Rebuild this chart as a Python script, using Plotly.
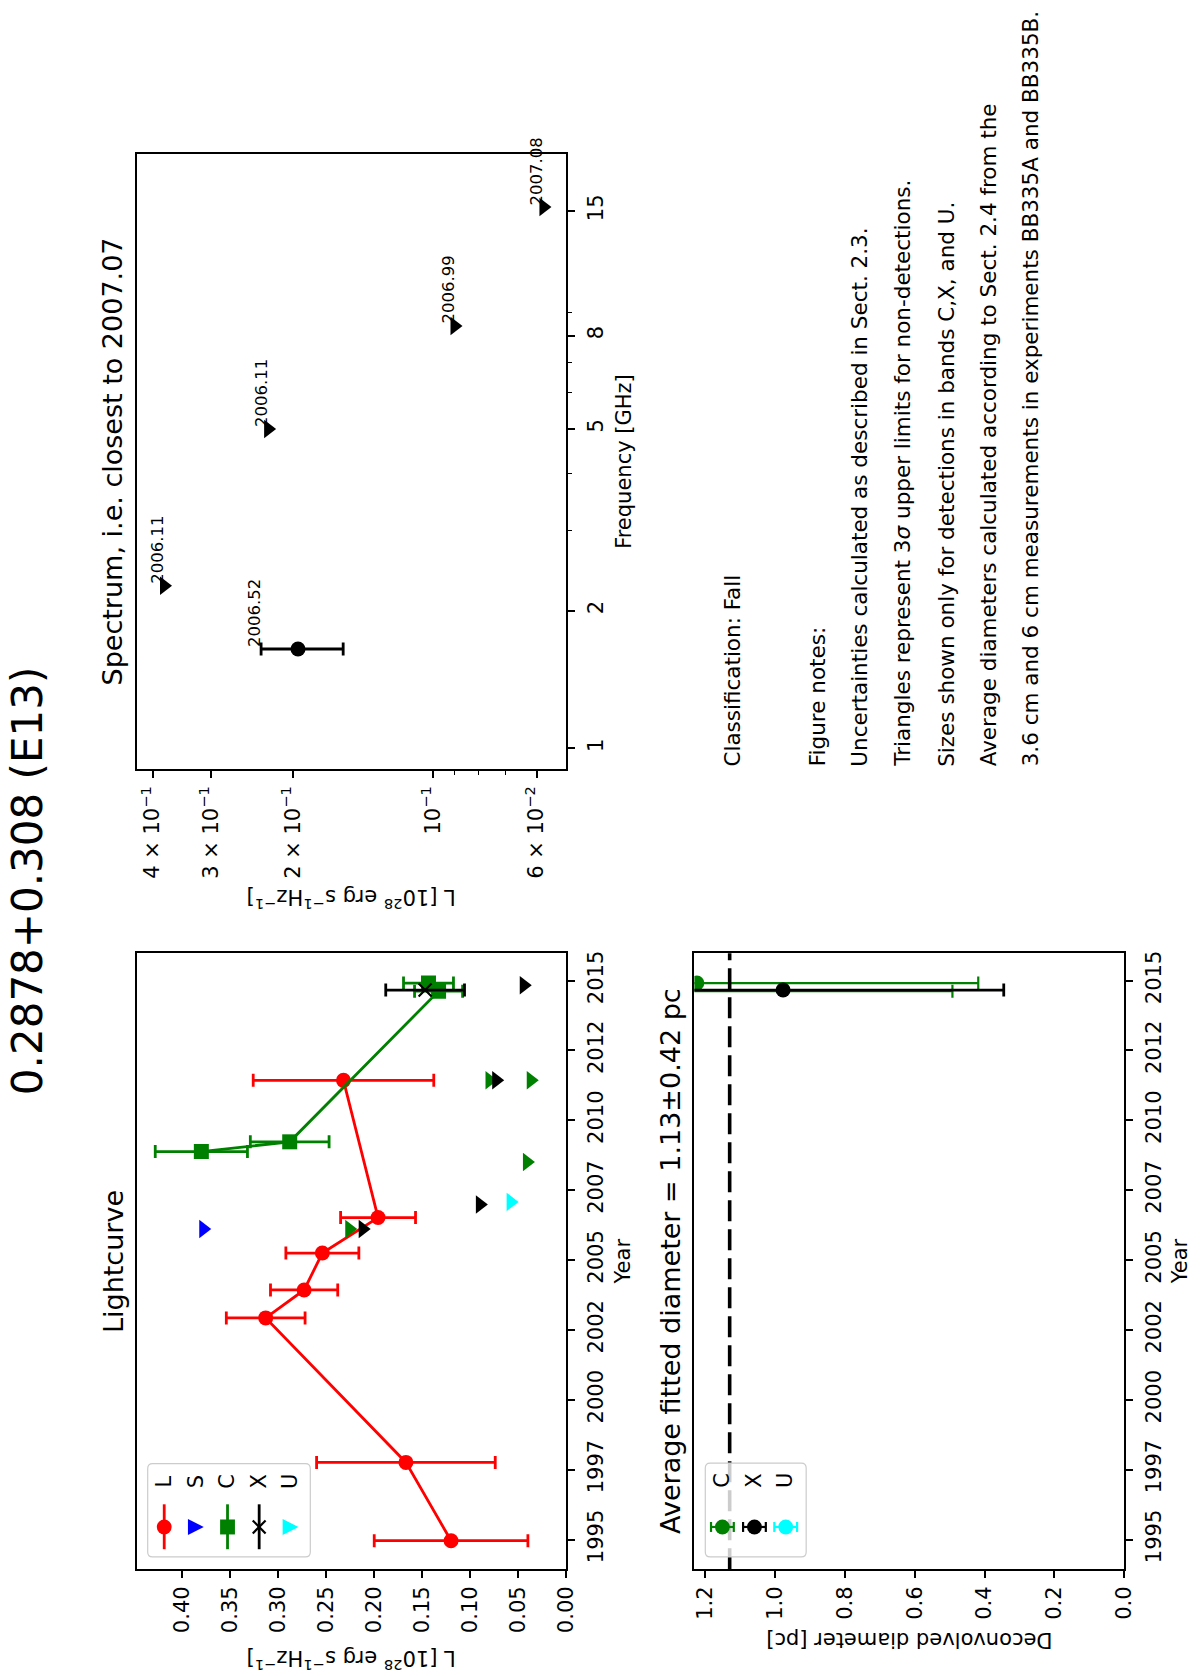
import numpy as np
import plotly.graph_objects as go

# ---------------- Data ----------------
# Lightcurve: detections
L_years = [1994.96, 1997.76, 2002.93, 2003.93, 2005.25, 2006.52, 2011.43]
L_flux = [0.120, 0.167, 0.313, 0.273, 0.254, 0.196, 0.232]
L_err = [0.080, 0.093, 0.041, 0.035, 0.038, 0.039, 0.094]

C_years = [2008.88, 2009.23, 2014.62, 2014.91]
C_flux = [0.380, 0.288, 0.133, 0.1435]
C_err = [0.048, 0.041, 0.025, 0.026]

X_years = [2014.66]
X_flux = [0.147]
X_err = [0.041]

# Lightcurve: 3-sigma upper limits
S_lim_years = [2006.11]
S_lim_flux = [0.378]
C_lim_years = [2006.11, 2008.51, 2011.43, 2011.43]
C_lim_flux = [0.226, 0.041, 0.080, 0.037]
X_lim_years = [2006.11, 2006.99, 2011.43, 2014.83]
X_lim_flux = [0.212, 0.090, 0.073, 0.0443]
U_lim_years = [2007.08]
U_lim_flux = [0.058]

# Spectrum (closest to 2007.07)
spec_det_freq = [1.65]
spec_det_flux = [0.195]
spec_det_err = [0.039]
spec_det_epoch = ["2006.52"]
spec_lim_freq = [2.27, 5.0, 8.4, 15.3]
spec_lim_flux = [0.378, 0.226, 0.090, 0.058]
spec_lim_epoch = ["2006.11", "2006.11", "2006.99", "2007.08"]

# Deconvolved diameters
D_C_years = [2014.91, 2014.62]
D_C = [1.224, 1.30]
D_C_err = [0.806, 0.808]
D_X_years = [2014.66]
D_X = [0.977]
D_X_err = [0.632]
avg_diam = 1.13
avg_diam_err = 0.42

# Ticks
year_ticks = [1995, 1997.5, 2000, 2002.5, 2005, 2007.5, 2010, 2012.5, 2015]
year_labels = ["1995", "1997", "2000", "2002", "2005", "2007", "2010", "2012", "2015"]
flux_ticks = [0.0, 0.05, 0.10, 0.15, 0.20, 0.25, 0.30, 0.35, 0.40]
flux_labels = ["0.00", "0.05", "0.10", "0.15", "0.20", "0.25", "0.30", "0.35", "0.40"]
spec_flux_ticks = [0.06, 0.1, 0.2, 0.3, 0.4]
spec_flux_labels = ["6 × 10<sup>−2</sup>", "10<sup>−1</sup>", "2 × 10<sup>−1</sup>",
                    "3 × 10<sup>−1</sup>", "4 × 10<sup>−1</sup>"]
spec_flux_minor = [0.07, 0.08, 0.09]
freq_ticks = [1, 2, 5, 8, 15]
freq_labels = ["1", "2", "5", "8", "15"]
freq_minor = [3, 4, 6, 7, 9]
diam_ticks = [0.0, 0.2, 0.4, 0.6, 0.8, 1.0, 1.2]
diam_labels = ["0.0", "0.2", "0.4", "0.6", "0.8", "1.0", "1.2"]

notes = [
    "Classification: Fall",
    "Figure notes:",
    "Uncertainties calculated as described in Sect. 2.3.",
    "Triangles represent 3<i>σ</i> upper limits for non-detections.",
    "Sizes shown only for detections in bands C,X, and U.",
    "Average diameters calculated according to Sect. 2.4 from the",
    "3.6 cm and 6 cm measurements in experiments BB335A and BB335B.",
]

# ---------------- Layout geometry (pixels) ----------------
W, H = 1200, 1676
FONT = "DejaVu Sans"
RED, BLUE, GREEN, BLACK, CYAN = "#ff0000", "#0000ff", "#008000", "#000000", "#00ffff"


def px(x):
    return x / W


def py(y):
    return 1 - y / H


LC_X = (137, 571.5)
LC_Y = (952, 1569)
SP_X = (137, 571.5)
SP_Y = (151.7, 767.3)
DI_X = (701, 1135.5)
DI_Y = (952, 1569)

fig = go.Figure()

TRI = dict(symbol="triangle-right", size=16)
ERR = dict(type="data", symmetric=True, thickness=2.8, width=6.5)
LW = 2.8

# ---- Lightcurve traces ----
fig.add_trace(go.Scatter(x=L_flux, y=L_years, mode="lines+markers", xaxis="x", yaxis="y",
                         line=dict(color=RED, width=LW),
                         marker=dict(symbol="circle", size=15, color=RED),
                         error_x=dict(array=L_err, color=RED, **ERR)))
fig.add_trace(go.Scatter(x=C_flux, y=C_years, mode="lines+markers", xaxis="x", yaxis="y",
                         line=dict(color=GREEN, width=LW),
                         marker=dict(symbol="square", size=15, color=GREEN),
                         error_x=dict(array=C_err, color=GREEN, **ERR)))
fig.add_trace(go.Scatter(x=X_flux, y=X_years, mode="markers", xaxis="x", yaxis="y",
                         marker=dict(symbol="x-thin", size=13, color=BLACK,
                                     line=dict(width=2.2, color=BLACK)),
                         error_x=dict(array=X_err, color=BLACK, **ERR)))
for yrs, fl, col in [(S_lim_years, S_lim_flux, BLUE), (C_lim_years, C_lim_flux, GREEN),
                     (X_lim_years, X_lim_flux, BLACK), (U_lim_years, U_lim_flux, CYAN)]:
    fig.add_trace(go.Scatter(x=fl, y=yrs, mode="markers", xaxis="x", yaxis="y",
                             marker=dict(color=col, **TRI)))

# ---- Spectrum traces ----
fig.add_trace(go.Scatter(x=spec_det_flux, y=spec_det_freq, mode="markers", xaxis="x2", yaxis="y2",
                         marker=dict(symbol="circle", size=15, color=BLACK),
                         error_x=dict(array=spec_det_err, color=BLACK, **ERR)))
fig.add_trace(go.Scatter(x=spec_lim_flux, y=spec_lim_freq, mode="markers", xaxis="x2", yaxis="y2",
                         marker=dict(color=BLACK, **TRI)))

# ---- Diameter traces ----
fig.add_trace(go.Scatter(x=D_C, y=D_C_years, mode="markers", xaxis="x3", yaxis="y3",
                         marker=dict(symbol="circle", size=15, color=GREEN),
                         error_x=dict(array=D_C_err, color=GREEN, type="data", symmetric=True,
                                      thickness=2.2, width=6.5)))
fig.add_trace(go.Scatter(x=D_X, y=D_X_years, mode="markers", xaxis="x3", yaxis="y3",
                         marker=dict(symbol="circle", size=15, color=BLACK),
                         error_x=dict(array=D_X_err, color=BLACK, **ERR)))

# ---------------- Axes ----------------
AX = dict(showline=True, linecolor="black", linewidth=1.6, mirror=True, showgrid=False,
          zeroline=False, ticks="outside", ticklen=7, tickwidth=1.6, tickcolor="black",
          tickangle=-90, tickfont=dict(family=FONT, size=21, color="black"))

fig.update_layout(
    xaxis=dict(AX, domain=[px(LC_X[0]), px(LC_X[1])], range=[0.4475, 0.0], anchor="y",
               tickmode="array", tickvals=flux_ticks, ticktext=flux_labels),
    yaxis=dict(AX, domain=[py(LC_Y[1]), py(LC_Y[0])], range=[1993.94, 2015.975], anchor="x",
               side="right", tickmode="array", tickvals=year_ticks, ticktext=year_labels,
               ticklabelstandoff=3),
    xaxis2=dict(AX, domain=[px(SP_X[0]), px(SP_X[1])], type="log", range=[-0.3635, -1.2856],
                anchor="y2", tickmode="array", tickvals=spec_flux_ticks, ticktext=spec_flux_labels,
                minor=dict(tickmode="array", tickvals=spec_flux_minor, ticks="outside",
                           ticklen=4, tickwidth=1.3, tickcolor="black", showgrid=False)),
    yaxis2=dict(AX, domain=[py(SP_Y[1]), py(SP_Y[0])], type="log", range=[-0.045, 1.2997],
                anchor="x2", side="right", tickmode="array", tickvals=freq_ticks,
                ticktext=freq_labels, ticklabelstandoff=3,
                minor=dict(tickmode="array", tickvals=freq_minor, ticks="outside",
                           ticklen=4, tickwidth=1.3, tickcolor="black", showgrid=False)),
    xaxis3=dict(AX, domain=[px(DI_X[0]), px(DI_X[1])], range=[1.231, 0.0], anchor="y3",
                tickmode="array", tickvals=diam_ticks, ticktext=diam_labels),
    yaxis3=dict(AX, domain=[py(DI_Y[1]), py(DI_Y[0])], range=[1993.94, 2015.975], anchor="x3",
                side="right", tickmode="array", tickvals=year_ticks, ticktext=year_labels,
                ticklabelstandoff=3),
)

# ---------------- Annotations ----------------
ann = []


def text(x, y, s, size=21, angle=-90, xa="center", ya="middle", **kw):
    ann.append(dict(x=px(x), y=py(y), xref="paper", yref="paper", text=s, showarrow=False,
                    textangle=angle, xanchor=xa, yanchor=ya,
                    font=dict(family=FONT, size=size, color="black"), **kw))


text(27, 879, "0.2878+0.308 (E13)", size=42)
text(113, sum(LC_Y) / 2, "Lightcurve", size=27)
text(113, sum(SP_Y) / 2, "Spectrum, i.e. closest to 2007.07", size=27)
text(677, sum(DI_Y) / 2, f"Average fitted diameter = {avg_diam:.2f}±{avg_diam_err:.2f} pc", size=27)
text(629, sum(LC_Y) / 2, "Year")
text(1192, sum(DI_Y) / 2, "Year")
text(629, sum(SP_Y) / 2, "Frequency [GHz]")
LUNIT = "L [10<sup>28</sup> erg s<sup>−1</sup>Hz<sup>−1</sup>]"
text(sum(LC_X) / 2, 1660, LUNIT, angle=180)
text(sum(SP_X) / 2, 897, LUNIT, angle=180)
text(sum(DI_X) / 2, 1640, "Deconvolved diameter [pc]", angle=180)

note_x = [740, 825, 868, 911.5, 955, 998, 1041]
for xx, s in zip(note_x, notes):
    text(xx, 767, s, size=21.5, ya="bottom")

# Spectrum epoch labels
for f, fl, e, lab in zip(spec_det_freq, spec_det_flux, spec_det_err, spec_det_epoch):
    ann.append(dict(x=np.log10(fl + e), y=np.log10(f), xref="x2", yref="y2", text=lab,
                    showarrow=False, textangle=-90, xanchor="center", yanchor="bottom",
                    xshift=-6, font=dict(family=FONT, size=16.5, color="black")))
for f, fl, lab in zip(spec_lim_freq, spec_lim_flux, spec_lim_epoch):
    ann.append(dict(x=np.log10(fl), y=np.log10(f), xref="x2", yref="y2", text=lab,
                    showarrow=False, textangle=-90, xanchor="center", yanchor="bottom",
                    xshift=-6, font=dict(family=FONT, size=16.5, color="black")))

# ---------------- Shapes (average line + hand-drawn rotated legends) ----------------
shapes = [dict(type="line", xref="x3", yref="y3 domain", x0=avg_diam, x1=avg_diam, y0=0, y1=1,
               line=dict(color="black", width=3.6, dash="21px,8px"))]


def rbox(x0, y0, x1, y1, r=5):
    p = (f"M{px(x0 + r)},{py(y0)} L{px(x1 - r)},{py(y0)} Q{px(x1)},{py(y0)} {px(x1)},{py(y0 + r)} "
         f"L{px(x1)},{py(y1 - r)} Q{px(x1)},{py(y1)} {px(x1 - r)},{py(y1)} "
         f"L{px(x0 + r)},{py(y1)} Q{px(x0)},{py(y1)} {px(x0)},{py(y1 - r)} "
         f"L{px(x0)},{py(y0 + r)} Q{px(x0)},{py(y0)} {px(x0 + r)},{py(y0)} Z")
    shapes.append(dict(type="path", xref="paper", yref="paper", path=p,
                       fillcolor="rgba(255,255,255,0.8)", line=dict(color="#cccccc", width=1.2)))


def seg(x0, y0, x1, y1, col, w=2.8):
    shapes.append(dict(type="line", xref="paper", yref="paper", x0=px(x0), y0=py(y0),
                       x1=px(x1), y1=py(y1), line=dict(color=col, width=w)))


def circ(cx, cy, r, col):
    shapes.append(dict(type="circle", xref="paper", yref="paper", x0=px(cx - r), x1=px(cx + r),
                       y0=py(cy + r), y1=py(cy - r), fillcolor=col, line=dict(width=0)))


def sq(cx, cy, r, col):
    shapes.append(dict(type="rect", xref="paper", yref="paper", x0=px(cx - r), x1=px(cx + r),
                       y0=py(cy + r), y1=py(cy - r), fillcolor=col, line=dict(width=0)))


def tri(cx, cy, r, col):
    p = f"M{px(cx - r)},{py(cy - r)} L{px(cx - r)},{py(cy + r)} L{px(cx + r)},{py(cy)} Z"
    shapes.append(dict(type="path", xref="paper", yref="paper", path=p, fillcolor=col,
                       line=dict(width=0)))


def xmark(cx, cy, r, col):
    seg(cx - r, cy - r, cx + r, cy + r, col, 2.2)
    seg(cx - r, cy + r, cx + r, cy - r, col, 2.2)


def ebar(cx, cy, col):
    seg(cx - 11.5, cy, cx + 11.5, cy, col, 2.2)
    seg(cx - 11.5, cy - 5, cx - 11.5, cy + 5, col, 2.2)
    seg(cx + 11.5, cy - 5, cx + 11.5, cy + 5, col, 2.2)


# Lightcurve legend
rbox(148.3, 1463.3, 312.7, 1556.7)
leg_x = [165, 197, 229, 261, 292.7]
leg_lab = ["L", "S", "C", "X", "U"]
my = 1526.7
seg(leg_x[0], 1504, leg_x[0], 1549, RED)
circ(leg_x[0], my, 7.5, RED)
tri(leg_x[1], my, 8, BLUE)
seg(leg_x[2], 1504, leg_x[2], 1549, GREEN)
sq(leg_x[2], my, 7.5, GREEN)
seg(leg_x[3], 1504, leg_x[3], 1549, BLACK)
xmark(leg_x[3], my, 6.5, BLACK)
tri(leg_x[4], my, 8, CYAN)
for xx, s in zip(leg_x, leg_lab):
    text(xx, 1481, s, size=21)

# Diameter legend
rbox(712, 1462.7, 814, 1556.7)
dleg_x = [729.3, 761.7, 793.3]
for xx, s, col in zip(dleg_x, ["C", "X", "U"], [GREEN, BLACK, CYAN]):
    ebar(xx, my, col)
    circ(xx, my, 7.5, col)
    text(xx, 1480, s, size=21)

fig.update_layout(width=W, height=H, autosize=False, margin=dict(l=0, r=0, t=0, b=0),
                  paper_bgcolor="white", plot_bgcolor="white", showlegend=False,
                  font=dict(family=FONT, color="black"), annotations=ann, shapes=shapes)

fig.write_html("out.html", config={"displayModeBar": False},
               post_script="document.body.style.margin='0';document.body.style.overflow='hidden';")
